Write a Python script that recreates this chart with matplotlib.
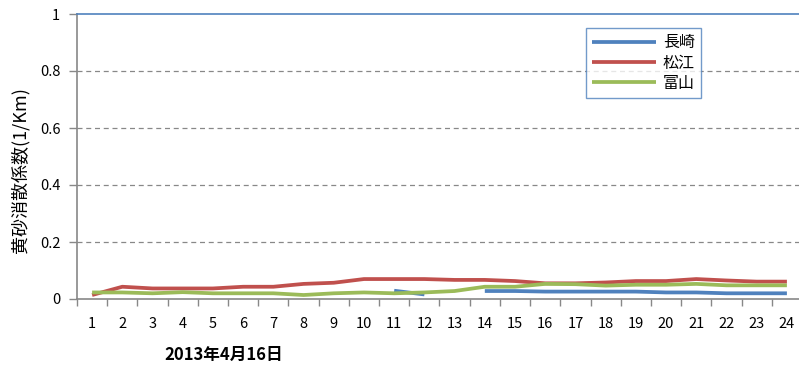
import matplotlib
matplotlib.use("Agg")
import matplotlib.pyplot as plt
import numpy as np

plt.rcParams['font.family'] = ['Noto Sans CJK JP', 'DejaVu Sans']

hours = list(range(1, 25))
nagasaki = [None] * 10 + [0.029, 0.016, None, 0.028, 0.028, 0.026, 0.026, 0.026,
                          0.026, 0.023, 0.023, 0.020, 0.020, 0.020]
matsue = [0.014, 0.043, 0.037, 0.037, 0.037, 0.043, 0.043, 0.053, 0.057, 0.070,
          0.070, 0.070, 0.067, 0.067, 0.063, 0.055, 0.055, 0.058, 0.063, 0.063,
          0.070, 0.065, 0.061, 0.061]
toyama = [0.023, 0.023, 0.020, 0.024, 0.020, 0.020, 0.020, 0.014, 0.020, 0.023,
          0.020, 0.023, 0.028, 0.043, 0.043, 0.053, 0.052, 0.047, 0.050, 0.050,
          0.053, 0.048, 0.048, 0.048]
series = [("長崎", nagasaki, "#4F81BD"),
          ("松江", matsue, "#C0504D"),
          ("富山", toyama, "#9BBB59")]
yticks = [0, 0.2, 0.4, 0.6, 0.8, 1]
ytick_labels = ["0", "0.2", "0.4", "0.6", "0.8", "1"]

fig = plt.figure(figsize=(7.99, 3.69), dpi=100)
ax = fig.add_axes([77 / 799, 1 - 299 / 369, 725 / 799, 285 / 369])

for name, vals, color in series:
    y = np.array([np.nan if v is None else v for v in vals], dtype=float)
    ax.plot(hours, y, color=color, lw=2.7, label=name, solid_capstyle='butt')

ax.set_xlim(0.5, 24.5)
ax.set_ylim(0, 1)
ax.set_yticks(yticks)
ax.set_yticklabels(ytick_labels)
ax.set_xticks(hours)
ax.set_xticks(np.arange(0.5, 25, 1), minor=True)
ax.tick_params(axis='x', which='major', length=0, pad=13, labelsize=10.5)
ax.tick_params(axis='x', which='minor', length=5, color='#888888', width=1)
ax.tick_params(axis='y', length=6, color='#888888', width=1, labelsize=10.5, pad=6)

for y in yticks[1:-1]:
    ax.axhline(y, color='#888888', lw=0.9, ls=(0, (4, 3)), zorder=0)

ax.spines['right'].set_visible(False)
ax.spines['top'].set_color('#4F81BD')
ax.spines['top'].set_linewidth(1.2)
for side in ['left', 'bottom']:
    ax.spines[side].set_color('#888888')
    ax.spines[side].set_linewidth(1.2)

fig.text(20 / 799, 1 - 170 / 369, "黄砂消散係数(1/Km)", fontsize=13,
         rotation=90, ha='center', va='center')
fig.text(224 / 799, 1 - 355 / 369, "2013年4月16日", fontsize=12,
         fontweight='bold', ha='center', va='center')

leg = ax.legend(loc='upper left', bbox_to_anchor=(586 / 799, 1 - 28 / 369),
                bbox_transform=fig.transFigure, fontsize=11.5, frameon=True,
                fancybox=False, handlelength=4.0, borderpad=0.4,
                borderaxespad=0, labelspacing=0.2, handletextpad=0.4)
leg.get_frame().set_edgecolor('#4F81BD')
leg.get_frame().set_linewidth(1.0)

fig.savefig("out.png", dpi=100)
